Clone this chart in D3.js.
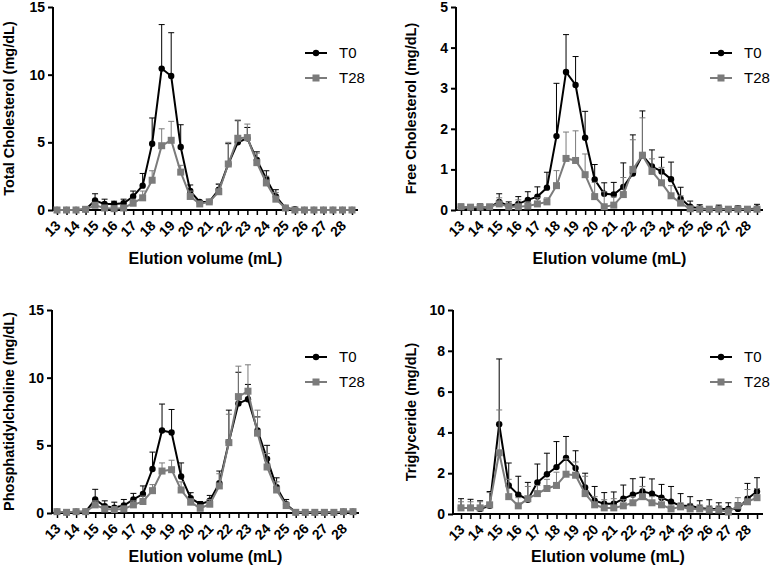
<!DOCTYPE html>
<html>
<head>
<meta charset="utf-8">
<script src="https://cdn.jsdelivr.net/npm/d3@7"></script>
<style>
  body { margin: 0; background: #fff; }
  svg { font-family: "Liberation Sans", Arial, sans-serif; }
</style>
</head>
<body>
<svg id="chart" width="771" height="573"></svg>
<script>
// Elution volume of each fraction (mL)
const elution = [13, 13.5, 14, 14.5, 15, 15.5, 16, 16.5, 17, 17.5, 18, 18.5, 19, 19.5, 20, 20.5,
    21, 21.5, 22, 22.5, 23, 23.5, 24, 24.5, 25, 25.5, 26, 26.5, 27, 27.5, 28, 28.5];
const xTickLabels = [13, 14, 15, 16, 17, 18, 19, 20, 21, 22, 23, 24, 25, 26, 27, 28];
const seriesNames = ['T0', 'T28'];

// Total cholesterol
const tcT0 = [0, 0, 0, 0.05, 0.7, 0.45, 0.45, 0.5, 1.0, 1.8, 4.9, 10.45, 9.9, 4.65, 1.4, 0.6,
    0.6, 1.5, 3.4, 5.0, 5.3, 3.7, 2.3, 1.0, 0.15, 0.05, 0, 0, 0, 0, 0, 0];
const tcT0Sd = [0, 0, 0, 0, 0.5, 0.35, 0.2, 0.3, 0.4, 0.9, 1.9, 3.25, 3.2, 1.65, 0.45, 0.1,
    0.1, 0.4, 1.5, 1.6, 0.8, 0.6, 0.6, 0.5, 0.1, 0, 0, 0, 0, 0, 0, 0];
const tcT28 = [0, 0, 0, 0.05, 0.35, 0.15, 0.1, 0.15, 0.5, 0.9, 2.2, 4.75, 5.15, 2.8, 1.0, 0.45,
    0.6, 1.35, 3.4, 5.3, 5.35, 3.5, 2.0, 0.8, 0.15, 0, 0, 0, 0, 0, 0, 0];
const tcT28Sd = [0, 0, 0, 0, 0.2, 0.1, 0.1, 0.1, 0.3, 0.5, 0.7, 1.25, 1.4, 0.5, 0.4, 0.1,
    0.1, 0.6, 1.6, 1.35, 1.0, 0.7, 0.5, 0.5, 0.1, 0, 0, 0, 0, 0, 0, 0];

// Free cholesterol
const fcT0 = [0.07, 0.05, 0.05, 0.07, 0.2, 0.1, 0.15, 0.25, 0.33, 0.55, 1.82, 3.4, 3.08, 1.78, 0.75, 0.4,
    0.38, 0.57, 0.9, 1.35, 1.07, 0.95, 0.76, 0.28, 0.08, 0.04, 0.02, 0.03, 0.02, 0.03, 0.02, 0.04];
const fcT0Sd = [0.05, 0.05, 0.1, 0.05, 0.2, 0.1, 0.18, 0.2, 0.24, 0.38, 1.3, 0.92, 0.7, 0.65, 0.37, 0.27,
    0.3, 0.59, 0.95, 1.09, 0.41, 0.35, 0.42, 0.28, 0.14, 0.09, 0.05, 0.09, 0.05, 0.07, 0.05, 0.1];
const fcT28 = [0.08, 0.07, 0.07, 0.08, 0.15, 0.08, 0.08, 0.1, 0.15, 0.2, 0.6, 1.27, 1.22, 0.87, 0.33, 0.08,
    0.12, 0.38, 1.0, 1.35, 0.95, 0.67, 0.35, 0.17, 0.03, 0.02, 0.02, 0.02, 0.02, 0.02, 0.02, 0.02];
const fcT28Sd = [0.07, 0.05, 0.08, 0.05, 0.15, 0.07, 0.17, 0.1, 0.15, 0.1, 0.37, 0.65, 0.73, 0.51, 0.35, 0.37,
    0.2, 0.42, 0.73, 0.92, 0.31, 0.38, 0.25, 0.18, 0.05, 0.03, 0.03, 0.03, 0.03, 0.03, 0.03, 0.03];

// Phosphatidylcholine
const pcT0 = [0.1, 0.05, 0.1, 0.1, 1.0, 0.5, 0.4, 0.55, 1.0, 1.4, 3.25, 6.1, 5.95, 2.7, 1.1, 0.65,
    0.9, 2.2, 5.25, 8.1, 8.4, 6.1, 4.0, 1.9, 0.65, 0.05, 0.05, 0.05, 0.05, 0.05, 0.1, 0.1];
const pcT0Sd = [0, 0, 0, 0, 0.75, 0.4, 0.4, 0.45, 0.45, 0.6, 1.25, 1.95, 1.7, 1.0, 0.4, 0.2,
    0.4, 0.9, 2.35, 2.3, 1.1, 1.0, 1.0, 0.7, 0.35, 0, 0, 0, 0.2, 0, 0.15, 0];
const pcT28 = [0.1, 0.05, 0.1, 0.1, 0.6, 0.3, 0.25, 0.3, 0.6, 0.85, 1.65, 3.1, 3.2, 1.7, 0.8, 0.35,
    0.65, 2.0, 5.2, 8.6, 9.0, 5.9, 3.4, 1.7, 0.55, 0.05, 0.05, 0.05, 0.05, 0.05, 0.1, 0.1];
const pcT28Sd = [0, 0, 0, 0, 0.3, 0.2, 0.2, 0.2, 0.3, 0.4, 0.45, 0.6, 0.7, 0.6, 0.25, 0.25,
    0.35, 0.9, 2.1, 2.25, 1.95, 1.7, 1.0, 0.6, 0.25, 0, 0, 0, 0, 0, 0.1, 0];

// Triglyceride
const tgT0 = [0.3, 0.3, 0.25, 0.4, 4.4, 1.4, 0.95, 0.7, 1.55, 1.95, 2.3, 2.75, 2.25, 1.3, 0.65, 0.5,
    0.5, 0.75, 0.95, 1.1, 1.0, 0.8, 0.6, 0.4, 0.4, 0.3, 0.25, 0.25, 0.25, 0.25, 0.75, 1.1];
const tgT0Sd = [0.45, 0.42, 0.4, 0.7, 3.2, 1.1, 0.9, 0.85, 0.9, 1.03, 1.25, 1.05, 0.85, 0.7, 0.7, 0.55,
    0.58, 0.67, 0.78, 0.7, 0.72, 0.65, 0.75, 0.6, 0.45, 0.35, 0.45, 0.3, 0.3, 0.3, 0.75, 0.68];
const tgT28 = [0.3, 0.3, 0.3, 0.45, 3.0, 0.85, 0.4, 0.75, 1.0, 1.25, 1.4, 1.95, 1.9, 1.0, 0.45, 0.3,
    0.3, 0.4, 0.55, 0.85, 0.55, 0.45, 0.25, 0.35, 0.25, 0.25, 0.2, 0.2, 0.1, 0.4, 0.6, 0.8];
const tgT28Sd = [0.3, 0.3, 0.3, 0.6, 2.1, 0.85, 0.4, 0.6, 0.4, 0.45, 0.65, 0.75, 0.65, 0.85, 0.4, 0.4,
    0.45, 0.3, 0.3, 0.5, 0.3, 0.3, 0.2, 0.2, 0.25, 0.2, 0.2, 0.2, 0.2, 0.4, 0.6, 0.45];

const colors = { T0: '#000000', T28: '#7b7b7b' };

const svg = d3.select('#chart');

// Draw one panel
function drawPanel(p) {
    const g = svg.append('g');

    const x = d3.scaleLinear().domain([13, 28.5]).range([p.x0, p.x1]);
    const y = d3.scaleLinear().domain([0, p.ymax]).range([p.y0, p.y1]);

    // Y axis
    const yAxis = g.append('g')
        .attr('transform', `translate(${p.axisX},0)`)
        .call(d3.axisLeft(y).tickValues(p.yTicks).tickFormat(d3.format('d')).tickSize(5).tickPadding(3));
    yAxis.select('.domain').attr('stroke-width', 2).attr('d', `M0,${p.y0 + 1}V${p.y1}`);
    yAxis.selectAll('.tick line').attr('stroke-width', 2);
    yAxis.selectAll('.tick text')
        .attr('font-size', 14).attr('font-weight', 'bold').attr('fill', '#000');

    // X axis
    const xAxis = g.append('g')
        .attr('transform', `translate(0,${p.y0})`)
        .call(d3.axisBottom(x).tickValues(elution).tickSize(5).tickFormat(''));
    xAxis.select('.domain').attr('stroke-width', 2).attr('d', `M${p.axisX - 1},0H${p.x1 + 6}`);
    xAxis.selectAll('.tick line').attr('stroke-width', 1.5);
    g.append('g').selectAll('text')
        .data(xTickLabels)
        .enter()
        .append('text')
        .attr('transform', d => `translate(${x(d) + 1},${p.y0 + 13}) rotate(-45)`)
        .attr('text-anchor', 'end')
        .attr('dy', '0.35em')
        .attr('font-size', 14)
        .attr('font-weight', 'bold')
        .text(d => d);

    // Axis titles
    g.append('text')
        .attr('transform', `translate(${p.yTitleX},${(p.y0 + p.y1) / 2}) rotate(-90)`)
        .attr('text-anchor', 'middle')
        .attr('font-size', 14.5)
        .attr('font-weight', 'bold')
        .text(p.yTitle);
    g.append('text')
        .attr('x', (p.axisX + p.x1 + 6) / 2)
        .attr('y', p.xTitleY)
        .attr('text-anchor', 'middle')
        .attr('font-size', 16)
        .attr('font-weight', 'bold')
        .text('Elution volume (mL)');

    // Series
    p.series.forEach(s => {
        const pts = elution.map((v, i) => ({ x: v, y: s.values[i], sd: s.sd[i] }));
        const c = colors[s.name];
        const eb = g.append('g').attr('stroke', c).attr('stroke-width', 1);
        eb.selectAll('line.v').data(pts.filter(d => d.sd > 0)).enter().append('line')
            .attr('x1', d => x(d.x)).attr('x2', d => x(d.x))
            .attr('y1', d => y(d.y)).attr('y2', d => y(d.y + d.sd));
        eb.selectAll('line.c').data(pts.filter(d => d.sd > 0)).enter().append('line')
            .attr('x1', d => x(d.x) - 3).attr('x2', d => x(d.x) + 3)
            .attr('y1', d => y(d.y + d.sd)).attr('y2', d => y(d.y + d.sd));

        g.append('path')
            .datum(pts)
            .attr('fill', 'none')
            .attr('stroke', c)
            .attr('stroke-width', 2)
            .attr('d', d3.line().x(d => x(d.x)).y(d => y(d.y)));

        if (s.name === 'T0') {
            g.append('g').selectAll('circle').data(pts).enter().append('circle')
                .attr('cx', d => x(d.x)).attr('cy', d => y(d.y)).attr('r', 3.2).attr('fill', c);
        } else {
            g.append('g').selectAll('rect').data(pts).enter().append('rect')
                .attr('x', d => x(d.x) - 3.5).attr('y', d => y(d.y) - 3.5)
                .attr('width', 7).attr('height', 7).attr('fill', c);
        }
    });

    // Legend
    seriesNames.forEach((name, i) => {
        const ly = p.legendY + i * 25;
        const lg = g.append('g');
        lg.append('line')
            .attr('x1', p.legendX).attr('x2', p.legendX + 22)
            .attr('y1', ly).attr('y2', ly)
            .attr('stroke', colors[name]).attr('stroke-width', 2);
        if (name === 'T0') {
            lg.append('circle').attr('cx', p.legendX + 11).attr('cy', ly).attr('r', 3.2).attr('fill', colors[name]);
        } else {
            lg.append('rect').attr('x', p.legendX + 7.5).attr('y', ly - 3.5)
                .attr('width', 7).attr('height', 7).attr('fill', colors[name]);
        }
        lg.append('text')
            .attr('x', p.legendX + 34).attr('y', ly)
            .attr('dy', '0.36em')
            .attr('font-size', 15)
            .text(name);
    });
}

drawPanel({
    axisX: 53, x0: 57, x1: 352, y0: 210, y1: 7, ymax: 15, yTicks: [0, 5, 10, 15],
    yTitle: 'Total Cholesterol (mg/dL)', yTitleX: 14, xTitleY: 264,
    legendX: 305, legendY: 53,
    series: [{ name: 'T0', values: tcT0, sd: tcT0Sd }, { name: 'T28', values: tcT28, sd: tcT28Sd }]
});
drawPanel({
    axisX: 456, x0: 461, x1: 757, y0: 210, y1: 7, ymax: 5, yTicks: [0, 1, 2, 3, 4, 5],
    yTitle: 'Free Cholesterol (mg/dL)', yTitleX: 416, xTitleY: 264,
    legendX: 710, legendY: 53,
    series: [{ name: 'T0', values: fcT0, sd: fcT0Sd }, { name: 'T28', values: fcT28, sd: fcT28Sd }]
});
drawPanel({
    axisX: 52, x0: 57, x1: 353, y0: 513, y1: 310, ymax: 15, yTicks: [0, 5, 10, 15],
    yTitle: 'Phosphatidylcholine (mg/dL)', yTitleX: 14, xTitleY: 562,
    legendX: 305, legendY: 357,
    series: [{ name: 'T0', values: pcT0, sd: pcT0Sd }, { name: 'T28', values: pcT28, sd: pcT28Sd }]
});
drawPanel({
    axisX: 453, x0: 461, x1: 757, y0: 514, y1: 310, ymax: 10, yTicks: [0, 2, 4, 6, 8, 10],
    yTitle: 'Triglyceride (mg/dL)', yTitleX: 416, xTitleY: 562,
    legendX: 710, legendY: 357,
    series: [{ name: 'T0', values: tgT0, sd: tgT0Sd }, { name: 'T28', values: tgT28, sd: tgT28Sd }]
});
</script>
</body>
</html>
